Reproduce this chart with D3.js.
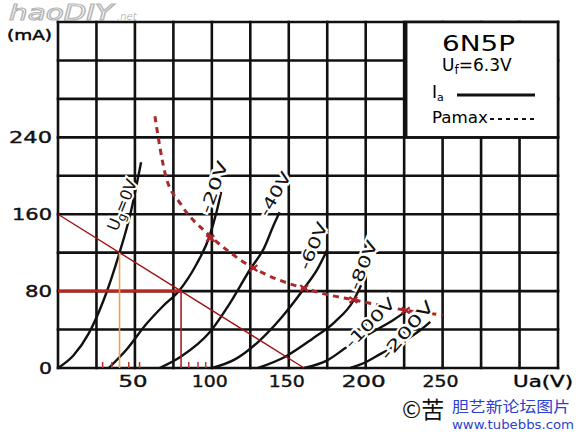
<!DOCTYPE html>
<html><head><meta charset="utf-8">
<script src="https://cdn.jsdelivr.net/npm/d3@7"></script>
<style>body{margin:0;background:#fff}svg{display:block}</style>
</head><body>
<svg id="c" width="583" height="432"></svg>
<script>
// ---------- data ----------
const xTicks = [50, 100, 150, 200, 250];
const yTicks = [0, 80, 160, 240];
const gridLabels = ["Ug=0V", "-20V", "-40V", "-60V", "-80V", "-100V", "-200V"];
// Anode characteristics (Ua [V], Ia [mA])
const curve0   = [[0,0],[10,13],[20,36],[30,72],[40,120],[47,160],[54,214]];
const curve20  = [[33,0],[45,20],[57,45],[68,64],[79,81],[90,108],[98,135],[103,162],[106,183]];
const curve40  = [[66,0],[80,12],[99,38],[112,68],[125,103],[134,125],[140,148],[144,162]];
const curve60  = [[100,0],[115,9],[130,27],[145,52],[160,83],[169,104],[175,123]];
const curve80  = [[130,0],[148,12],[165,30],[180,48],[192,70],[197,86]];
const curve100 = [[160,0],[175,8],[188,22],[205,38],[218,50],[227,60]];
const curve200 = [[190,0],[200,6],[210,15],[225,28],[236,40],[242,48]];
const curves = [curve0, curve20, curve40, curve60, curve80, curve100, curve200];
// Max anode dissipation curve
const pamax = [[63,262],[70,200],[80,170],[97,140],[112,120],[127,104],[143,92],[160,83],[176,76],[192,71],[210,65],[226,60],[240,57],[250,55]];
const pamaxCross = [[99,135],[127,104],[160,83],[192,71],[226,60]];
// Load line & operating points
const loadLine = [[0,160],[160,0]];
const opA = [40,120];
const opB = [80,80];
const redTicksA = [29,35,46,53];
const redTicksB = [85,91,96];

// ---------- layout ----------
const x = d3.scaleLinear().domain([0,325]).range([58,558]);
const y = d3.scaleLinear().domain([0,360]).range([368,22]);
const svg = d3.select("#c");
const FONT = "DejaVu Sans, sans-serif";

// watermark top-left
svg.append("text").attr("x",9).attr("y",20).attr("font-family",FONT).attr("font-size",22)
  .attr("font-style","italic").attr("fill","#fff").attr("stroke","#b5b5b5").attr("stroke-width",1.2)
  .attr("textLength",104).attr("lengthAdjust","spacingAndGlyphs").text("haoDIY");
svg.append("text").attr("x",117).attr("y",20).attr("font-family",FONT).attr("font-size",10)
  .attr("font-style","italic").attr("fill","#c0c0c0").text(".net");

// grid
const gx = d3.range(0, 326, 25), gy = d3.range(0, 361, 40);
const grid = svg.append("g").attr("stroke","#111").attr("stroke-width",2.6).attr("stroke-linecap","square");
grid.selectAll(".v").data(gx).join("line").attr("x1",d=>x(d)).attr("x2",d=>x(d)).attr("y1",y(0)).attr("y2",y(360));
grid.selectAll(".h").data(gy).join("line").attr("y1",d=>y(d)).attr("y2",d=>y(d)).attr("x1",x(0)).attr("x2",x(325));

// legend box
svg.append("rect").attr("x",x(225)+2).attr("y",y(360)).attr("width",x(325)-x(225)-2).attr("height",y(240)-y(360))
  .attr("fill","#fff").attr("stroke","#111").attr("stroke-width",2.6);
svg.append("text").attr("x",442).attr("y",51).attr("font-family",FONT).attr("font-size",22)
  .attr("textLength",73).attr("lengthAdjust","spacingAndGlyphs").text("6N5P");
const uf = svg.append("text").attr("x",442).attr("y",71).attr("font-family",FONT).attr("font-size",17);
uf.append("tspan").text("U");
uf.append("tspan").attr("font-size",12).attr("dy",3).text("f");
uf.append("tspan").attr("dy",-3).text("=6.3V");
const ia = svg.append("text").attr("x",432).attr("y",98).attr("font-family",FONT).attr("font-size",17);
ia.append("tspan").text("I");
ia.append("tspan").attr("font-size",11).attr("dy",3).text("a");
svg.append("line").attr("x1",457).attr("x2",535).attr("y1",95).attr("y2",95).attr("stroke","#111").attr("stroke-width",3);
svg.append("text").attr("x",432).attr("y",123).attr("font-family",FONT).attr("font-size",15)
  .attr("textLength",56).attr("lengthAdjust","spacingAndGlyphs").text("Pamax");
svg.append("line").attr("x1",490).attr("x2",536).attr("y1",119).attr("y2",119).attr("stroke","#111")
  .attr("stroke-width",2.2).attr("stroke-dasharray","4,4");

// characteristic curves
const line = d3.line().x(d=>x(d[0])).y(d=>y(d[1])).curve(d3.curveMonotoneX);
svg.append("g").selectAll("path").data(curves).join("path").attr("d",line)
  .attr("fill","none").attr("stroke","#111").attr("stroke-width",2.4);

// load line and operating point lines
svg.append("line").attr("x1",x(loadLine[0][0])).attr("y1",y(loadLine[0][1])).attr("x2",x(loadLine[1][0])).attr("y2",y(loadLine[1][1]))
  .attr("stroke","#a01212").attr("stroke-width",1.4);
svg.append("line").attr("x1",x(0)).attr("x2",x(opB[0])).attr("y1",y(opB[1])).attr("y2",y(opB[1]))
  .attr("stroke","#c0221c").attr("stroke-width",3);
svg.append("line").attr("x1",x(opB[0])).attr("x2",x(opB[0])).attr("y1",y(opB[1])).attr("y2",y(0))
  .attr("stroke","#a8202a").attr("stroke-width",1.6);
svg.append("line").attr("x1",x(opA[0])).attr("x2",x(opA[0])).attr("y1",y(opA[1])).attr("y2",y(0))
  .attr("stroke","#f0a050").attr("stroke-width",1.6);
svg.append("g").selectAll("line").data(redTicksA.concat(redTicksB)).join("line")
  .attr("x1",d=>x(d)).attr("x2",d=>x(d)).attr("y1",y(0)-6).attr("y2",y(0))
  .attr("stroke","#c0302a").attr("stroke-width",1.5);

// Pa max
svg.append("path").datum(pamax).attr("d",d3.line().x(d=>x(d[0])).y(d=>y(d[1])).curve(d3.curveMonotoneX))
  .attr("fill","none").attr("stroke","#a82a2a").attr("stroke-width",3).attr("stroke-dasharray","6,5");
const cr = svg.append("g").attr("stroke","#b0202a").attr("stroke-width",2.2);
pamaxCross.forEach(p=>{
  cr.append("line").attr("x1",x(p[0])-4).attr("x2",x(p[0])+4).attr("y1",y(p[1])-3).attr("y2",y(p[1])+3);
  cr.append("line").attr("x1",x(p[0])-4).attr("x2",x(p[0])+4).attr("y1",y(p[1])+3).attr("y2",y(p[1])-3);
});

// curve labels (layout anchors in data units)
const labelLayout = [
  {at:[41.6,169.6], rot:-68, len:61},
  {at:[101.4,188.3], rot:-70, len:54},
  {at:[141,181], rot:-60, len:48},
  {at:[165.8,127], rot:-67, len:50},
  {at:[198.3,107], rot:-68, len:52},
  {at:[202.8,46.8], rot:-45, len:64},
  {at:[226.9,39.5], rot:-49, len:72}
];
gridLabels.forEach((t,i)=>{
  const L = labelLayout[i];
  const g = svg.append("g").attr("transform",`translate(${x(L.at[0])},${y(L.at[1])}) rotate(${L.rot})`);
  const tx = g.append("text").attr("text-anchor","middle").attr("dy","0.35em").attr("font-family",FONT)
    .attr("font-size",16).attr("fill","#111").attr("stroke","#fff").attr("stroke-width",4).attr("paint-order","stroke");
  if (i===0){
    tx.append("tspan").text("U");
    tx.append("tspan").attr("font-size",12).attr("dy",3).text("g");
    tx.append("tspan").attr("dy",-3).text("=0V");
  } else {
    tx.attr("textLength",L.len).attr("lengthAdjust","spacingAndGlyphs").text(t);
  }
});

// axis tick labels
const yW = {0:13, 80:27, 160:40, 240:43};
svg.append("g").selectAll("text").data(yTicks).join("text")
  .attr("x",52).attr("y",d=>y(d)).attr("dy","0.36em").attr("text-anchor","end")
  .attr("font-family",FONT).attr("font-size",16).attr("fill","#111").attr("stroke","#111").attr("stroke-width",0.4)
  .attr("textLength",d=>yW[d]).attr("lengthAdjust","spacingAndGlyphs").text(d=>d);
svg.append("text").attr("x",7).attr("y",40).attr("font-family",FONT).attr("font-size",14)
  .attr("stroke","#111").attr("stroke-width",0.5)
  .attr("textLength",45).attr("lengthAdjust","spacingAndGlyphs").text("(mA)");
const xW = {50:29, 100:36, 150:36, 200:44, 250:36};
svg.append("g").selectAll("text").data(xTicks).join("text")
  .attr("x",d=>x(d)-2).attr("y",381).attr("dy","0.36em").attr("text-anchor","middle")
  .attr("font-family",FONT).attr("font-size",16).attr("fill","#111").attr("stroke","#111").attr("stroke-width",0.4)
  .attr("textLength",d=>xW[d]).attr("lengthAdjust","spacingAndGlyphs").text(d=>d);
svg.append("text").attr("x",543).attr("y",381).attr("dy","0.36em").attr("text-anchor","middle")
  .attr("font-family",FONT).attr("font-size",16).attr("stroke","#111").attr("stroke-width",0.4)
  .attr("textLength",60).attr("lengthAdjust","spacingAndGlyphs").text("Ua(V)");

// watermark bottom-right
svg.append("text").attr("x",402).attr("y",418).attr("font-family","Noto Sans CJK SC, sans-serif").attr("font-size",23)
  .attr("fill","#111").text("©苦");
svg.append("text").attr("x",452).attr("y",412).attr("font-family","Noto Sans CJK SC, sans-serif").attr("font-size",15)
  .attr("fill","#2b3fd0").attr("textLength",118).attr("lengthAdjust","spacingAndGlyphs").text("胆艺新论坛图片");
svg.append("text").attr("x",452).attr("y",429).attr("font-family",FONT).attr("font-size",12)
  .attr("fill","#2b3fd0").attr("textLength",122).attr("lengthAdjust","spacingAndGlyphs").text("www.tubebbs.com");
</script>
</body></html>
